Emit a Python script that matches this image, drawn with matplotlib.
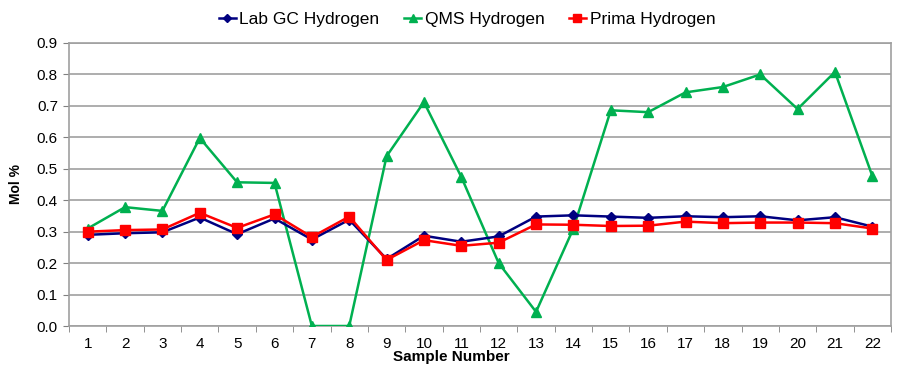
import numpy as np
import matplotlib.pyplot as plt

plt.rcParams['font.family'] = ['Liberation Sans', 'DejaVu Sans']

samples = np.arange(1, 23)

lab_gc = [0.290, 0.295, 0.298, 0.345, 0.292, 0.342, 0.275, 0.338, 0.213, 0.287, 0.268,
          0.285, 0.348, 0.352, 0.348, 0.344, 0.349, 0.346, 0.349, 0.336, 0.346, 0.316]
qms = [0.310, 0.378, 0.366, 0.598, 0.457, 0.455, 0.0, 0.0, 0.540, 0.712, 0.474,
       0.200, 0.045, 0.310, 0.686, 0.680, 0.743, 0.760, 0.800, 0.690, 0.808, 0.477]
prima = [0.300, 0.305, 0.307, 0.360, 0.312, 0.355, 0.283, 0.348, 0.210, 0.273, 0.255,
         0.265, 0.323, 0.322, 0.318, 0.319, 0.332, 0.327, 0.329, 0.329, 0.327, 0.310]

fig = plt.figure(figsize=(8.98, 3.70), dpi=100)
ax = fig.add_axes([69 / 898, 1 - 326 / 370, 822 / 898, 283 / 370])

ax.plot(samples, lab_gc, color="#000080", marker="D", markersize=5.5, lw=1.8,
        label="Lab GC Hydrogen", zorder=4)
ax.plot(samples, qms, color="#00B050", marker="^", markersize=7.5, lw=1.8,
        label="QMS Hydrogen", zorder=3)
ax.plot(samples, prima, color="#FF0000", marker="s", markersize=6.5, lw=1.8,
        label="Prima Hydrogen", zorder=5)

ax.set_xlim(0.5, 22.5)
ax.set_ylim(0, 0.9)
ax.set_yticks(np.arange(0, 0.91, 0.1))
ax.set_yticklabels([f"{v:.1f}" for v in np.arange(0, 0.91, 0.1)], fontsize=11)
ax.set_xticks(samples)
ax.set_xticklabels([str(s) for s in samples], fontsize=11)
ax.set_xticks(np.arange(0.5, 23, 1), minor=True)
ax.tick_params(axis="x", which="major", length=0, pad=8)
ax.tick_params(axis="x", which="minor", length=4, color="#808080")
ax.tick_params(axis="y", length=4, color="#808080", pad=4)

ax.grid(axis="y", color="#A0A0A0", lw=1.2)
ax.set_axisbelow(True)
for s in ax.spines.values():
    s.set_color("#A0A0A0")
    s.set_linewidth(1.2)

ax.set_ylabel("Mol %", fontsize=10, fontweight="bold", labelpad=10)
ax.set_xlabel("Sample Number", fontsize=11, fontweight="bold")
ax.xaxis.set_label_coords(0.465, -0.085)

fig.legend(loc="upper center", bbox_to_anchor=(0.52, 1.01), ncol=3, frameon=False,
           fontsize=12.5, handlelength=1.0, handletextpad=0.2, columnspacing=1.4,
           markerscale=0.8)

plt.savefig("out.png", dpi=100)
